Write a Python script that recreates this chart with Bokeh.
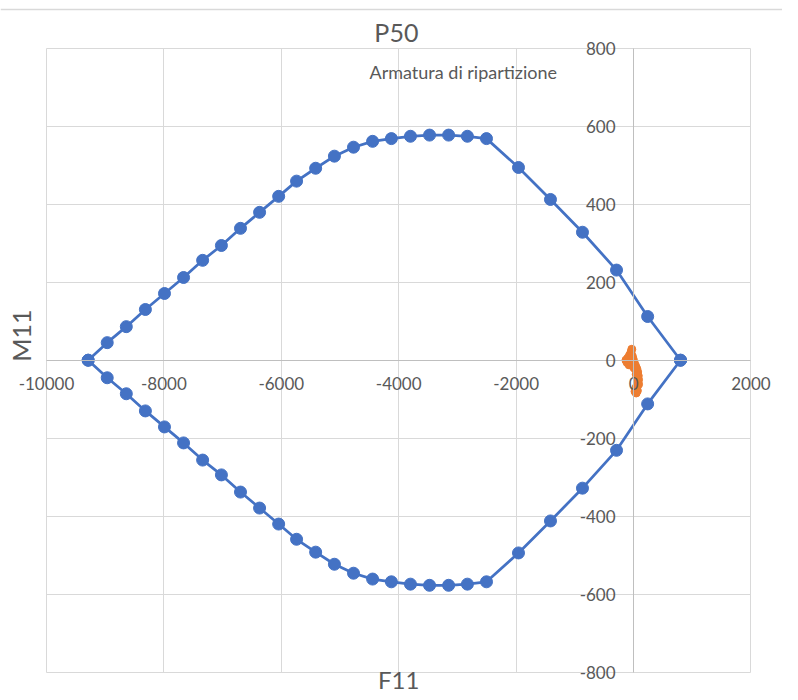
import math
from bokeh.plotting import figure
from bokeh.models import Range1d, SingleIntervalTicker, Label, PrintfTickFormatter, Span
from bokeh.embed import file_html
from bokeh.resources import INLINE

# Interaction domain (upper branch, left -> right)
upper_F = [-9290, -8965, -8640, -8315, -7990, -7665, -7340, -7020, -6695, -6370,
           -6045, -5740, -5415, -5095, -4770, -4445, -4125, -3800, -3475, -3150,
           -2830, -2505, -1960, -1415, -870, -290, 240, 800]
upper_M = [0, 45, 86, 130, 171, 212, 256, 294, 338, 379,
           420, 459, 492, 523, 546, 561, 568, 574, 577, 577,
           574, 568, 494, 412, 328, 231, 112, 0]
# lower branch, right -> left
lower_F = [800, 240, -290, -870, -1415, -1960, -2505, -2830, -3150, -3475,
           -3800, -4125, -4445, -4770, -5095, -5415, -5740, -6045, -6370, -6695,
           -7020, -7340, -7665, -7990, -8315, -8640, -8965, -9290]
lower_M = [0, -112, -231, -328, -412, -494, -568, -574, -577, -577,
           -574, -568, -561, -546, -523, -492, -459, -420, -379, -338,
           -294, -256, -212, -171, -130, -86, -45, 0]

# Acting forces (orange)
load_F = [-30, -45, -70, -100, -130, -110, -75, -40, -5, 15, 35, 55, 70, 80, 85,
          75, 55, 35, 25, 45, 65, 85, 70, 45, 10, -20]
load_M = [28, 20, 12, 5, 0, -6, -12, -5, 2, -8, -15, -22, -30, -40, -50,
          -58, -66, -73, -80, -84, -78, -62, -46, -36, -20, 10]

title_text = "P50"
subtitle_text = "Armatura di ripartizione"
x_title = "F11"
y_title = "M11"

FONT = "Lato"
GREY = "#595959"
GRID = "#D9D9D9"
BLUE = "#4472C4"
ORANGE = "#ED7D31"

p = figure(width=782, height=696, output_backend="svg", toolbar_location=None,
           x_range=Range1d(-10783, 2537), y_range=Range1d(-862, 922),
           min_border_left=0, min_border_right=0, min_border_top=0,
           min_border_bottom=0)
p.background_fill_color = "white"
p.border_fill_color = "white"
p.outline_line_color = None

xt = SingleIntervalTicker(interval=2000, num_minor_ticks=0)
yt = SingleIntervalTicker(interval=200, num_minor_ticks=0)
p.xaxis.ticker = xt
p.yaxis.ticker = yt
p.xgrid.ticker = xt
p.ygrid.ticker = yt
p.xgrid.bounds = (-10000, 2000)
p.xgrid.cross_bounds = (-800, 800)
p.ygrid.bounds = (-800, 800)
p.ygrid.cross_bounds = (-10000, 2000)
p.xgrid.grid_line_color = GRID
p.ygrid.grid_line_color = GRID

p.xaxis.bounds = (-10000, 2000)
p.yaxis.bounds = (-800, 800)
for ax in (p.xaxis[0], p.yaxis[0]):
    ax.fixed_location = 0
    ax.axis_line_color = "#BFBFBF"
    ax.major_tick_line_color = None
    ax.minor_tick_line_color = None
    ax.major_tick_out = 0
    ax.major_tick_in = 0
    ax.major_label_text_font = FONT
    ax.major_label_text_font_size = "17px"
    ax.major_label_text_color = GREY
    ax.formatter = PrintfTickFormatter(format="%d")
p.xaxis.major_label_standoff = 17
p.yaxis.major_label_standoff = 18

p.add_layout(Span(location=899, dimension="width", line_color=GRID, line_width=1.5))

p.line(upper_F, upper_M, line_color=BLUE, line_width=2.75)
p.line(lower_F, lower_M, line_color=BLUE, line_width=2.75)
p.scatter(upper_F, upper_M, size=12, fill_color=BLUE, line_color=BLUE)
p.scatter(lower_F, lower_M, size=12, fill_color=BLUE, line_color=BLUE)

p.line(load_F, load_M, line_color=ORANGE, line_width=3)
p.scatter(load_F, load_M, size=8, fill_color=ORANGE, line_color=ORANGE)

common = dict(text_font=FONT, text_color=GREY, text_align="center",
              text_baseline="middle")
p.add_layout(Label(x=-4040, y=840, text=title_text, text_font_size="25px", **common))
p.add_layout(Label(x=-2900, y=738, text=subtitle_text, text_font_size="18px", **common))
p.add_layout(Label(x=-4000, y=-818, text=x_title, text_font_size="24px", **common))
p.add_layout(Label(x=-10428, y=63, text=y_title, angle=math.pi / 2,
                   text_font_size="25px", **common))

open("out.html", "w").write(file_html(p, INLINE))
